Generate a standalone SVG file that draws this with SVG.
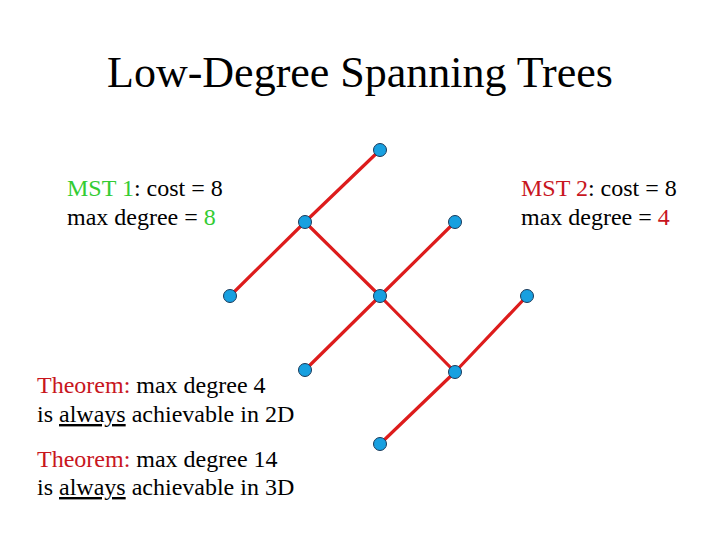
<svg xmlns="http://www.w3.org/2000/svg" width="720" height="540" viewBox="0 0 720 540">
<style>
text,tspan{font-family:"Liberation Serif","Times New Roman",serif}
text{fill:#000}
.t{font-size:44px}
.s{font-size:24px}
.k{fill:#000}
.g{fill:#33cc33}
.r{fill:#c8161e}
.e{stroke:#dd1c1c;stroke-width:3.2;fill:none;stroke-linecap:round}
.n{fill:#18a0e0;stroke:#1a3a5a;stroke-width:1}
</style>
<rect width="720" height="540" fill="#fff"/>
<text class="t" x="360" y="87" text-anchor="middle">Low-Degree Spanning Trees</text>
<g id="labels">
<text class="s" x="67" y="196"><tspan class="g">MST 1</tspan><tspan class="k">: cost = 8</tspan></text>
<text class="s" x="67" y="225"><tspan class="k">max degree = </tspan><tspan class="g">8</tspan></text>
<text class="s" x="521" y="196"><tspan class="r">MST 2</tspan><tspan class="k">: cost = 8</tspan></text>
<text class="s" x="521" y="225"><tspan class="k">max degree = </tspan><tspan class="r">4</tspan></text>
<text class="s" x="37" y="393"><tspan class="r">Theorem:</tspan><tspan class="k"> max degree 4</tspan></text>
<text class="s" x="37" y="422"><tspan class="k">is </tspan><tspan class="k" text-decoration="underline">always</tspan><tspan class="k"> achievable in 2D</tspan></text>
<text class="s" x="37" y="467"><tspan class="r">Theorem:</tspan><tspan class="k"> max degree 14</tspan></text>
<text class="s" x="37" y="495"><tspan class="k">is </tspan><tspan class="k" text-decoration="underline">always</tspan><tspan class="k"> achievable in 3D</tspan></text>
</g>
<g id="connectors" class="e">
<line x1="380" y1="150" x2="305" y2="222"/>
<line x1="305" y1="222" x2="230" y2="296"/>
<line x1="305" y1="222" x2="380" y2="296"/>
<line x1="455" y1="222" x2="380" y2="296"/>
<line x1="380" y1="296" x2="305" y2="370"/>
<line x1="380" y1="296" x2="455" y2="372"/>
<line x1="527" y1="296" x2="455" y2="372"/>
<line x1="455" y1="372" x2="380" y2="444"/>
</g>
<g id="n1"><circle class="n" cx="380" cy="150" r="6.5"/></g>
<g id="n2"><circle class="n" cx="305" cy="222" r="6.5"/></g>
<g id="n3"><circle class="n" cx="455" cy="222" r="6.5"/></g>
<g id="n4"><circle class="n" cx="230" cy="296" r="6.5"/></g>
<g id="n5"><circle class="n" cx="380" cy="296" r="6.5"/></g>
<g id="n6"><circle class="n" cx="527" cy="296" r="6.5"/></g>
<g id="n7"><circle class="n" cx="305" cy="370" r="6.5"/></g>
<g id="n8"><circle class="n" cx="455" cy="372" r="6.5"/></g>
<g id="n9"><circle class="n" cx="380" cy="444" r="6.5"/></g>
</svg>
